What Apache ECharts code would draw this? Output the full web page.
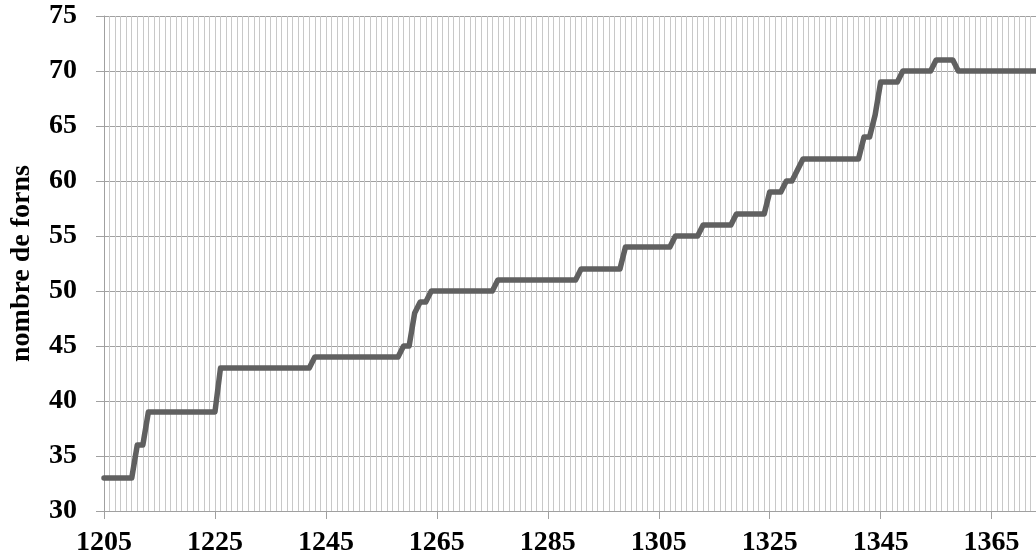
<!DOCTYPE html>
<html>
<head>
<meta charset="utf-8">
<script src="https://cdn.jsdelivr.net/npm/echarts@6/dist/echarts.min.js"></script>
<style>
  html, body { margin: 0; padding: 0; background: #ffffff; }
  #chart { width: 1036px; height: 559px; }
</style>
</head>
<body>
<div id="chart"></div>
<script>
// Year range of the series (one category per year)
const firstYear = 1205;
const lastYear = 1373;
const years = [];
for (let y = firstYear; y <= lastYear; y++) years.push(String(y));

// Number of ovens per year, 1205 to 1373 (ten values per row)
const nombreForns = [
  33, 33, 33, 33, 33, 33, 36, 36, 39, 39,   // 1205-1214
  39, 39, 39, 39, 39, 39, 39, 39, 39, 39,   // 1215-1224
  39, 43, 43, 43, 43, 43, 43, 43, 43, 43,   // 1225-1234
  43, 43, 43, 43, 43, 43, 43, 43, 44, 44,   // 1235-1244
  44, 44, 44, 44, 44, 44, 44, 44, 44, 44,   // 1245-1254
  44, 44, 44, 44, 45, 45, 48, 49, 49, 50,   // 1255-1264
  50, 50, 50, 50, 50, 50, 50, 50, 50, 50,   // 1265-1274
  50, 51, 51, 51, 51, 51, 51, 51, 51, 51,   // 1275-1284
  51, 51, 51, 51, 51, 51, 52, 52, 52, 52,   // 1285-1294
  52, 52, 52, 52, 54, 54, 54, 54, 54, 54,   // 1295-1304
  54, 54, 54, 55, 55, 55, 55, 55, 56, 56,   // 1305-1314
  56, 56, 56, 56, 57, 57, 57, 57, 57, 57,   // 1315-1324
  59, 59, 59, 60, 60, 61, 62, 62, 62, 62,   // 1325-1334
  62, 62, 62, 62, 62, 62, 62, 64, 64, 66,   // 1335-1344
  69, 69, 69, 69, 70, 70, 70, 70, 70, 70,   // 1345-1354
  71, 71, 71, 71, 70, 70, 70, 70, 70, 70,   // 1355-1364
  70, 70, 70, 70, 70, 70, 70, 70, 70        // 1365-1373
];

// Y axis scale
const yMin = 30;
const yMax = 75;
const yStep = 5;
const yTitle = 'nombre de forns';
const labelEvery = 20; // years between x labels

const serif = "'Liberation Serif', 'Times New Roman', serif";

const chart = echarts.init(document.getElementById('chart'), null, { renderer: 'canvas' });
chart.setOption({
  animation: false,
  backgroundColor: '#ffffff',
  grid: { left: 98, right: 0, top: 16, bottom: 48, containLabel: false },
  xAxis: {
    type: 'category',
    data: years,
    boundaryGap: false,
    axisLine: { show: true, lineStyle: { color: '#a0a0a0', width: 1 } },
    axisTick: { show: true, interval: labelEvery - 1, length: 8, lineStyle: { color: '#a0a0a0' } },
    axisLabel: {
      interval: labelEvery - 1,
      margin: 18,
      color: '#000000',
      fontFamily: serif,
      fontWeight: 'bold',
      fontSize: 28
    },
    splitLine: { show: true, interval: 0, lineStyle: { color: '#c8c8c8', width: 1 } }
  },
  yAxis: {
    type: 'value',
    min: yMin,
    max: yMax,
    interval: yStep,
    name: yTitle,
    nameLocation: 'middle',
    nameRotate: 90,
    nameGap: 68,
    nameTextStyle: {
      color: '#000000',
      fontFamily: serif,
      fontWeight: 'bold',
      fontSize: 28
    },
    axisLine: { show: true, lineStyle: { color: '#a0a0a0', width: 1 } },
    axisTick: { show: true, length: 8, lineStyle: { color: '#a0a0a0' } },
    axisLabel: {
      margin: 27,
      color: '#000000',
      fontFamily: serif,
      fontWeight: 'bold',
      fontSize: 28
    },
    splitLine: { show: true, lineStyle: { color: '#a0a0a0', width: 1 } }
  },
  series: [{
    type: 'line',
    data: nombreForns,
    symbol: 'none',
    lineStyle: { color: '#606060', width: 5.5, join: 'round', cap: 'round' },
    z: 5
  }]
});
</script>
</body>
</html>
